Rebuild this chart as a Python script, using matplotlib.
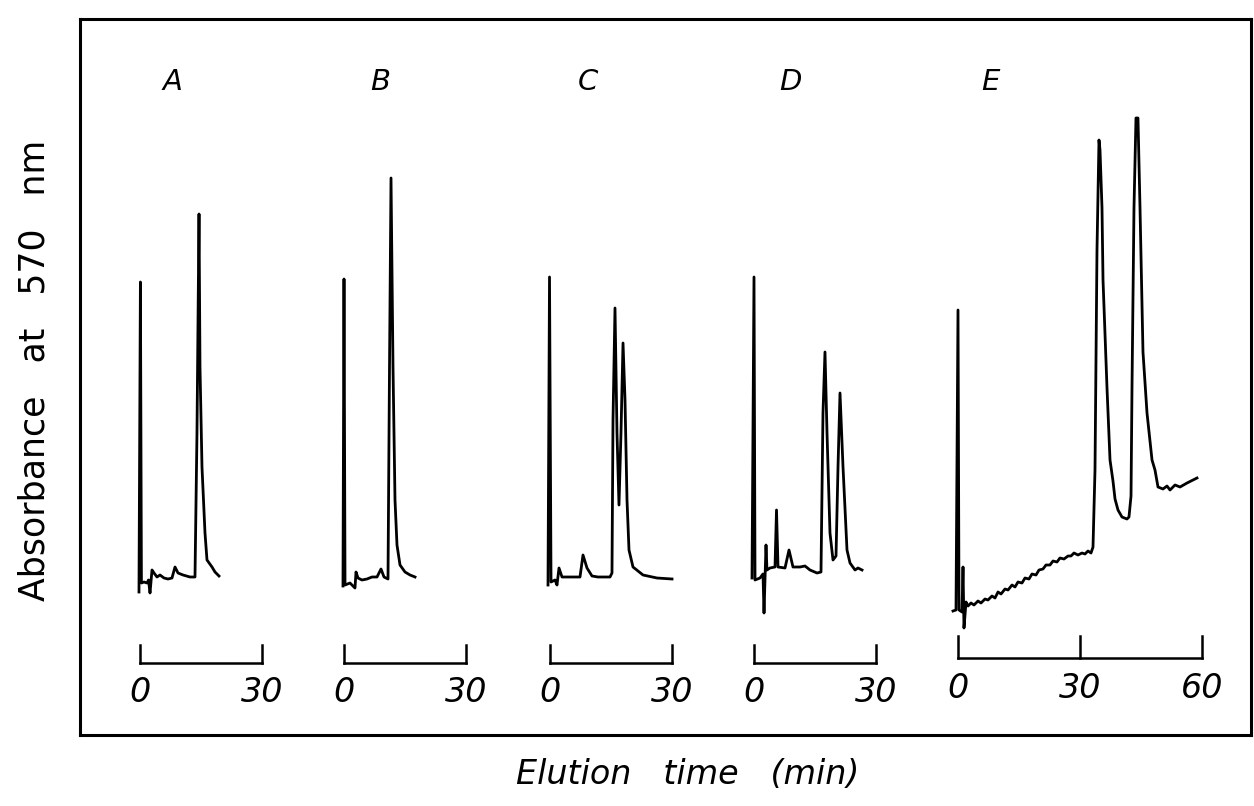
import numpy as np
import matplotlib.pyplot as plt

# ---------------- data ----------------
# time in min, absorbance in arbitrary units (baseline about 0.05)
time_A = [-0.25, 0.1, 0.35, 0.98, 1.72, 2.09, 2.46, 2.95, 3.44, 4.18, 4.91, 5.90, 6.88, 7.86,
          8.60, 9.34, 10.57, 12.29, 13.51, 14.00, 14.50, 14.74, 15.23, 15.97, 16.46, 17.69,
          18.43, 19.41]
abs_A = [0.016, 0.636, 0.034, 0.036, 0.034, 0.040, 0.014, 0.060, 0.054, 0.046, 0.050, 0.044,
         0.042, 0.044, 0.066, 0.054, 0.050, 0.046, 0.046, 0.334, 0.772, 0.466, 0.266, 0.134,
         0.080, 0.066, 0.056, 0.048]

time_B = [-0.25, 0.0, 0.25, 1.47, 2.21, 2.70, 2.95, 3.44, 4.42, 5.65, 6.88, 8.11, 9.09, 9.83,
          10.81, 11.18, 11.55, 12.04, 12.53, 13.02, 13.76, 14.99, 16.22, 17.45]
abs_B = [0.028, 0.642, 0.030, 0.034, 0.028, 0.024, 0.056, 0.044, 0.040, 0.042, 0.046, 0.046,
         0.062, 0.046, 0.042, 0.466, 0.844, 0.466, 0.200, 0.110, 0.070, 0.056, 0.050, 0.046]

time_C = [-0.49, -0.12, 0.25, 1.23, 1.72, 2.21, 2.95, 4.18, 5.65, 7.37, 8.11, 9.09, 10.32,
          11.79, 14.74, 15.23, 15.48, 15.97, 16.46, 16.95, 17.44, 17.94, 18.43, 18.92, 19.41,
          20.39, 22.85, 26.29, 29.98]
abs_C = [0.030, 0.646, 0.036, 0.040, 0.030, 0.064, 0.046, 0.046, 0.046, 0.046, 0.090, 0.064,
         0.048, 0.046, 0.046, 0.054, 0.360, 0.584, 0.334, 0.190, 0.334, 0.514, 0.400, 0.200,
         0.100, 0.066, 0.050, 0.044, 0.042]

time_D = [-0.49, 0.0, 0.25, 1.47, 2.21, 2.46, 2.95, 3.19, 3.93, 5.16, 5.53, 5.90, 7.62, 8.60,
          9.58, 11.30, 12.53, 13.76, 15.48, 16.46, 16.95, 17.44, 17.94, 18.67, 19.41, 20.15,
          20.64, 21.13, 21.87, 22.85, 23.59, 24.82, 25.55, 26.54]
abs_D = [0.044, 0.646, 0.040, 0.044, 0.052, -0.026, 0.110, 0.060, 0.064, 0.066, 0.180, 0.066,
         0.064, 0.100, 0.066, 0.066, 0.068, 0.060, 0.054, 0.056, 0.374, 0.496, 0.334, 0.134,
         0.080, 0.088, 0.266, 0.414, 0.266, 0.100, 0.074, 0.060, 0.064, 0.060]

time_E = [-1.23, -0.49, 0.0, 0.25, 0.98, 1.23, 1.47, 1.97, 2.46, 3.19, 3.93, 4.91, 5.65, 6.63,
          7.37, 8.35, 9.09, 9.83, 10.57, 11.55, 12.29, 13.27, 14.00, 14.74, 15.72, 16.46,
          17.44, 18.18, 19.16, 19.90, 20.88, 21.62, 22.60, 23.34, 24.32, 25.06, 26.04, 27.03,
          27.76, 28.50, 29.48, 30.47, 31.20, 31.94, 32.68, 33.17, 33.66, 34.15, 34.64, 34.89,
          35.38, 35.63, 36.61, 37.35, 38.08, 38.58, 39.31, 40.29, 41.52, 42.01, 42.51, 42.75,
          43.24, 43.73, 44.22, 44.72, 45.45, 46.44, 47.67, 48.40, 49.14, 50.37, 51.35, 52.09,
          53.32, 54.55, 56.27, 57.74, 58.72]
abs_E = [-0.022, -0.020, 0.580, -0.020, -0.024, 0.066, -0.056, -0.004, -0.012, -0.006, -0.010,
         -0.002, -0.006, 0.002, 0.000, 0.008, 0.004, 0.016, 0.012, 0.022, 0.020, 0.030, 0.026,
         0.036, 0.034, 0.044, 0.042, 0.052, 0.050, 0.060, 0.062, 0.070, 0.070, 0.078, 0.076,
         0.084, 0.082, 0.088, 0.088, 0.094, 0.090, 0.094, 0.092, 0.098, 0.094, 0.106, 0.260,
         0.700, 0.920, 0.900, 0.784, 0.640, 0.424, 0.280, 0.238, 0.202, 0.180, 0.166, 0.162,
         0.166, 0.208, 0.424, 0.784, 0.964, 0.964, 0.784, 0.496, 0.374, 0.280, 0.260, 0.226,
         0.222, 0.228, 0.220, 0.230, 0.226, 0.234, 0.240, 0.244]

panel_labels = ["A", "B", "C", "D", "E"]
scale_ticks_short = [0, 30]
scale_ticks_long = [0, 30, 60]

traces = [(time_A, abs_A), (time_B, abs_B), (time_C, abs_C), (time_D, abs_D), (time_E, abs_E)]
scales = [scale_ticks_short] * 4 + [scale_ticks_long]

# ---------------- layout (pixels of a 1254x806 page) ----------------
W, H = 1254, 806
fig = plt.figure(figsize=(W / 100, H / 100), dpi=100)

# outer frame
frame = fig.add_axes([80 / W, 1 - 735 / H, (1251 - 80) / W, (735 - 19) / H])
frame.set_xticks([])
frame.set_yticks([])
for s in frame.spines.values():
    s.set_linewidth(2.2)

px_per_min = 4.07
zero_px = [140, 344, 550, 754, 958]
label_px = [172, 380, 588, 790, 990]
ylo, yhi = -0.24, 1.0
top_px, bot_px = 100, 720

for i, ((t, a), ticks) in enumerate(zip(traces, scales)):
    xmin, xmax = -4, ticks[-1] + 4
    left = zero_px[i] + xmin * px_per_min
    width = (xmax - xmin) * px_per_min
    ax = fig.add_axes([left / W, 1 - bot_px / H, width / W, (bot_px - top_px) / H])
    ax.set_xlim(xmin, xmax)
    ax.set_ylim(ylo, yhi)
    ax.axis("off")
    ax.patch.set_alpha(0)

    ax.plot(t, a, color="black", lw=2.0, solid_joinstyle="round")

    # time scale bar
    if len(ticks) == 2:
        bar_y, tick_top, lab_y = -0.126, -0.09, -0.186
    else:
        bar_y, tick_top, lab_y = -0.116, -0.072, -0.176
    ax.plot([ticks[0], ticks[-1]], [bar_y, bar_y], color="black", lw=1.8)
    for tk in ticks:
        ax.plot([tk, tk], [bar_y, tick_top], color="black", lw=1.8)
        ax.text(tk, lab_y, str(tk), ha="center", va="center", fontsize=24,
                style="italic", color="black")

    fig.text(label_px[i] / W, 1 - 82 / H, panel_labels[i], ha="center", va="center",
             fontsize=21, style="italic")

fig.text(35 / W, 1 - 370 / H, "Absorbance   at   570   nm", rotation=90, ha="center",
         va="center", fontsize=25)
fig.text(688 / W, 1 - 775 / H, "Elution   time   (min)", ha="center", va="center",
         fontsize=24, style="italic")

fig.savefig("out.png", dpi=100)
